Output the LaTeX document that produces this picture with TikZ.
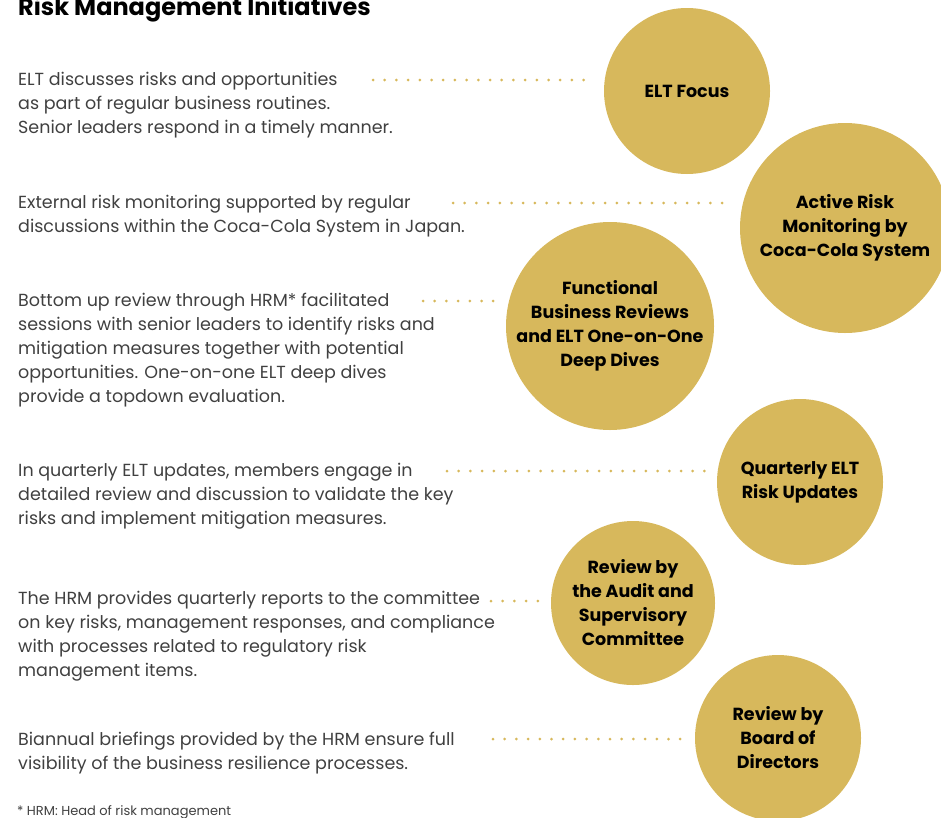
\documentclass[tikz,border=0pt]{standalone}
\usepackage{fontspec}
\setmainfont{Poppins}
\usetikzlibrary{positioning}
\definecolor{gold}{HTML}{D7B85C}
\definecolor{bodygray}{HTML}{404040}
\tikzset{
    bubble/.style={circle, fill=gold, inner sep=0pt, align=center,
        font=\bfseries\fontsize{17.5}{24}\selectfont},
    % multi-line text: base anchor sits on the last line
    blurb/.style={anchor=base west, align=left, inner sep=0pt, text=bodygray,
        font=\fontsize{17.5}{24}\selectfont},
    leader/.style={gold, line width=3pt, line cap=round,
        dash pattern=on 0pt off 11.7pt, shorten >=12pt}
}

\begin{document}
\begin{tikzpicture}[x=1pt,y=-1pt]
    \useasboundingbox (0,0) rectangle (941,817);
    \node[anchor=base west, inner sep=0pt, font=\bfseries\fontsize{24}{28}\selectfont]
        (title) at (18,15) {Risk Management Initiatives};

    % the six initiatives
    \node[bubble, minimum size=166pt] (focus) at (687,91) {ELT Focus};
    \node[bubble, minimum size=210pt] (monitor) at (845,228)
        {Active Risk\\Monitoring by\\Coca-Cola System};
    \node[bubble, minimum size=208pt] (review) at (610,326)
        {Functional\\Business Reviews\\and ELT One-on-One\\Deep Dives};
    \node[bubble, minimum size=166pt] (quarter) at (800,482)
        {Quarterly ELT\\Risk Updates};
    \node[bubble, minimum size=164pt] (audit) at (633,603)
        {Review by\\the Audit and\\Supervisory\\Committee};
    \node[bubble, minimum size=166pt] (board) at (778,738)
        {Review by\\Board of\\Directors};

    % descriptions
    \node[blurb] (t1) at (18,133) {ELT discusses risks and opportunities\\
        as part of regular business routines.\\
        Senior leaders respond in a timely manner.};
    \node[blurb] (t2) at (18,232) {External risk monitoring supported by regular\\
        discussions within the Coca-Cola System in Japan.};
    \node[blurb] (t3) at (18,402) {Bottom up review through HRM* facilitated\\
        sessions with senior leaders to identify risks and\\
        mitigation measures together with potential\\
        opportunities. One-on-one ELT deep dives\\
        provide a topdown evaluation.};
    \node[blurb] (t4) at (18,524) {In quarterly ELT updates, members engage in\\
        detailed review and discussion to validate the key\\
        risks and implement mitigation measures.};
    \node[blurb] (t5) at (18,676) {The HRM provides quarterly reports to the committee\\
        on key risks, management responses, and compliance\\
        with processes related to regulatory risk\\
        management items.};
    \node[blurb] (t6) at (18,769) {Biannual briefings provided by the HRM ensure full\\
        visibility of the business resilience processes.};

    % dotted leaders
    \coordinate (d1) at (373,80);
    \coordinate (d2) at (453,203);
    \coordinate (d3) at (423,301);
    \coordinate (d4) at (447,471);
    \coordinate (d5) at (491,601);
    \coordinate (d6) at (493,739);
    \draw[leader] (d1) -- (d1 -| focus.west);
    \draw[leader] (d2) -- (d2 -| monitor.west);
    \draw[leader] (d3) -- (d3 -| review.west);
    \draw[leader] (d4) -- (d4 -| quarter.west);
    \draw[leader] (d5) -- (d5 -| audit.west);
    \draw[leader] (d6) -- (d6 -| board.west);

    \node[anchor=base west, inner sep=0pt, text=bodygray, font=\fontsize{13}{15}\selectfont]
        (note) at (17,815) {* HRM: Head of risk management};
\end{tikzpicture}
\end{document}
